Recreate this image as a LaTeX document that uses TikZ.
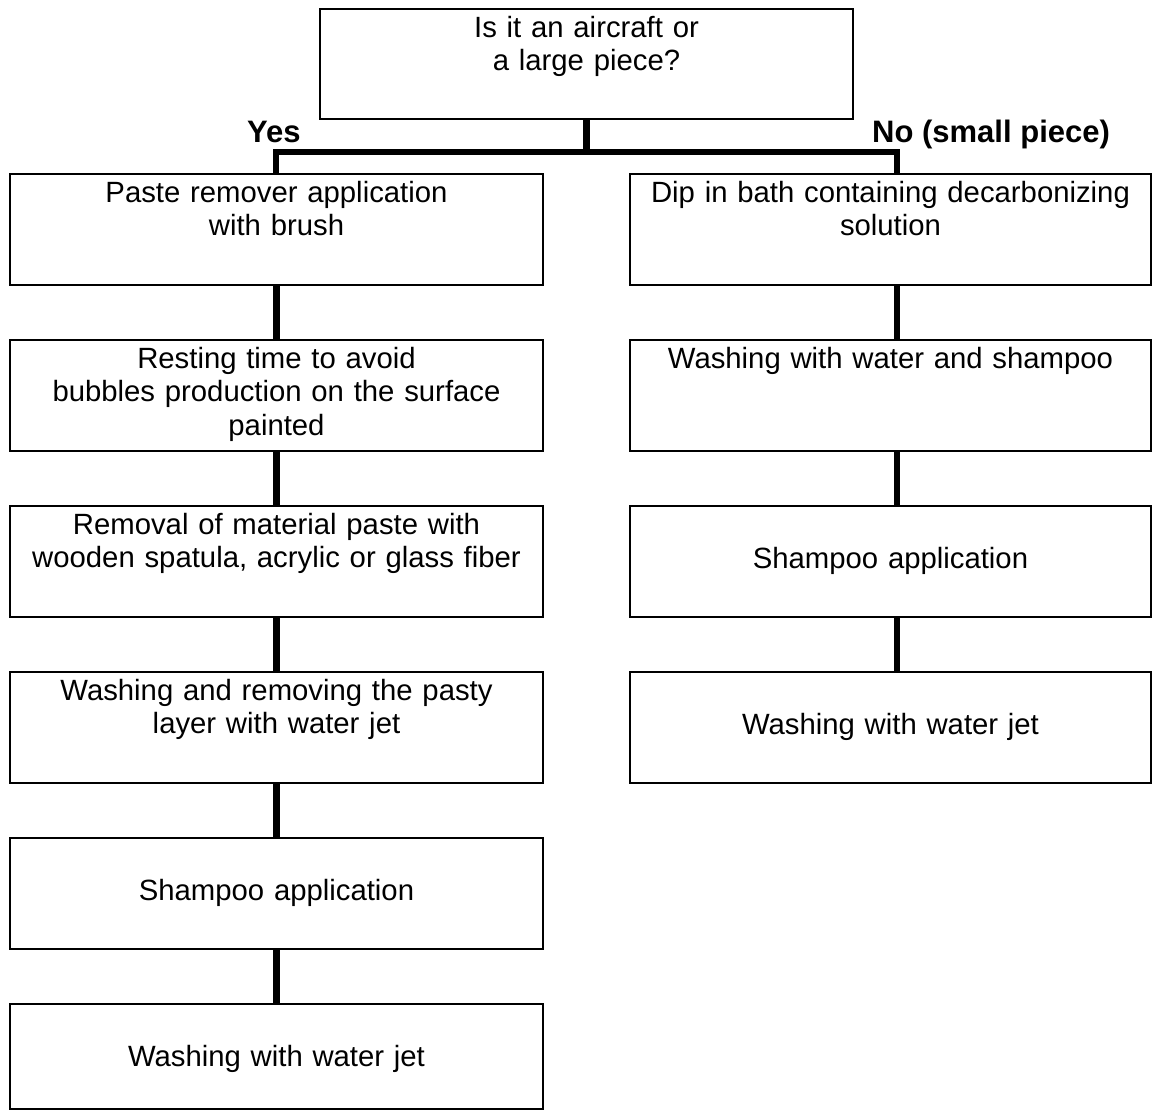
\documentclass[tikz,border=0pt]{standalone}
\usepackage{fontspec}
\setmainfont{Liberation Sans}
\usetikzlibrary{positioning}

\begin{document}
\begin{tikzpicture}[x=1pt,y=-1pt]

    \tikzstyle{stepbox} = [draw, line width=1.2pt, rectangle, inner sep=0pt, outer sep=0pt,
        text width=533pt, align=center, text height=28pt, text depth=83pt,
        font=\fontsize{29.3}{33.8}\selectfont]

    \tikzstyle{smallbox} = [stepbox, text width=521pt]

    \tikzstyle{oneline} = [text height=62pt, text depth=49pt]

    \tikzstyle{link} = [line width=6.5pt]

    \tikzstyle{answer} = [anchor=base west, inner sep=0pt,
        font=\fontsize{31}{36}\selectfont\bfseries]

    \useasboundingbox (0,0) rectangle (1152,1111);

    % Question
    \node [stepbox, anchor=north west, text depth=82pt] (question) at (320,9)
        {Is it an aircraft or\\ a large piece?};

    % Large piece
    \node [stepbox, anchor=north west] (lpaste) at (10,174)
        {Paste remover application\\ with brush};
    \node [stepbox, below=55pt of lpaste] (lrest)
        {Resting time to avoid\\ bubbles production on the surface\\ painted};
    \node [stepbox, below=55pt of lrest] (lremove)
        {Removal of material paste with\\ wooden spatula, acrylic or glass fiber};
    \node [stepbox, below=55pt of lremove] (lwash)
        {Washing and removing the pasty\\ layer with water jet};
    \node [stepbox, oneline, below=55pt of lwash] (lshampoo)
        {Shampoo application};
    \node [stepbox, oneline, below=55pt of lshampoo, text depth=43pt] (ljet)
        {Washing with water jet};

    % Small piece
    \node [smallbox, anchor=north west] (rdip) at (630,174)
        {Dip in bath containing decarbonizing\\ solution};
    \node [smallbox, below=55pt of rdip] (rwash)
        {Washing with water and shampoo};
    \node [smallbox, oneline, below=55pt of rwash] (rshampoo)
        {Shampoo application};
    \node [smallbox, oneline, below=55pt of rshampoo] (rjet)
        {Washing with water jet};

    % Answers
    \node [answer] (yes) at (247,142) {Yes};
    \node [answer] (no) at (872,142) {No (small piece)};

    \coordinate (lbus) at (276,152);
    \coordinate (rbus) at (897,152);

    \draw[link] (question.south) -- (question.south |- lbus);
    \draw[link] (lbus |- lpaste.north) -- (lbus) -- (rbus) -- (rbus |- rdip.north);

    \draw[link] (lpaste) -- (lrest);
    \draw[link] (lrest) -- (lremove);
    \draw[link] (lremove) -- (lwash);
    \draw[link] (lwash) -- (lshampoo);
    \draw[link] (lshampoo) -- (ljet);

    \draw[link] (rdip.south -| rbus) -- (rwash.north -| rbus);
    \draw[link] (rwash.south -| rbus) -- (rshampoo.north -| rbus);
    \draw[link] (rshampoo.south -| rbus) -- (rjet.north -| rbus);

\end{tikzpicture}
\end{document}
